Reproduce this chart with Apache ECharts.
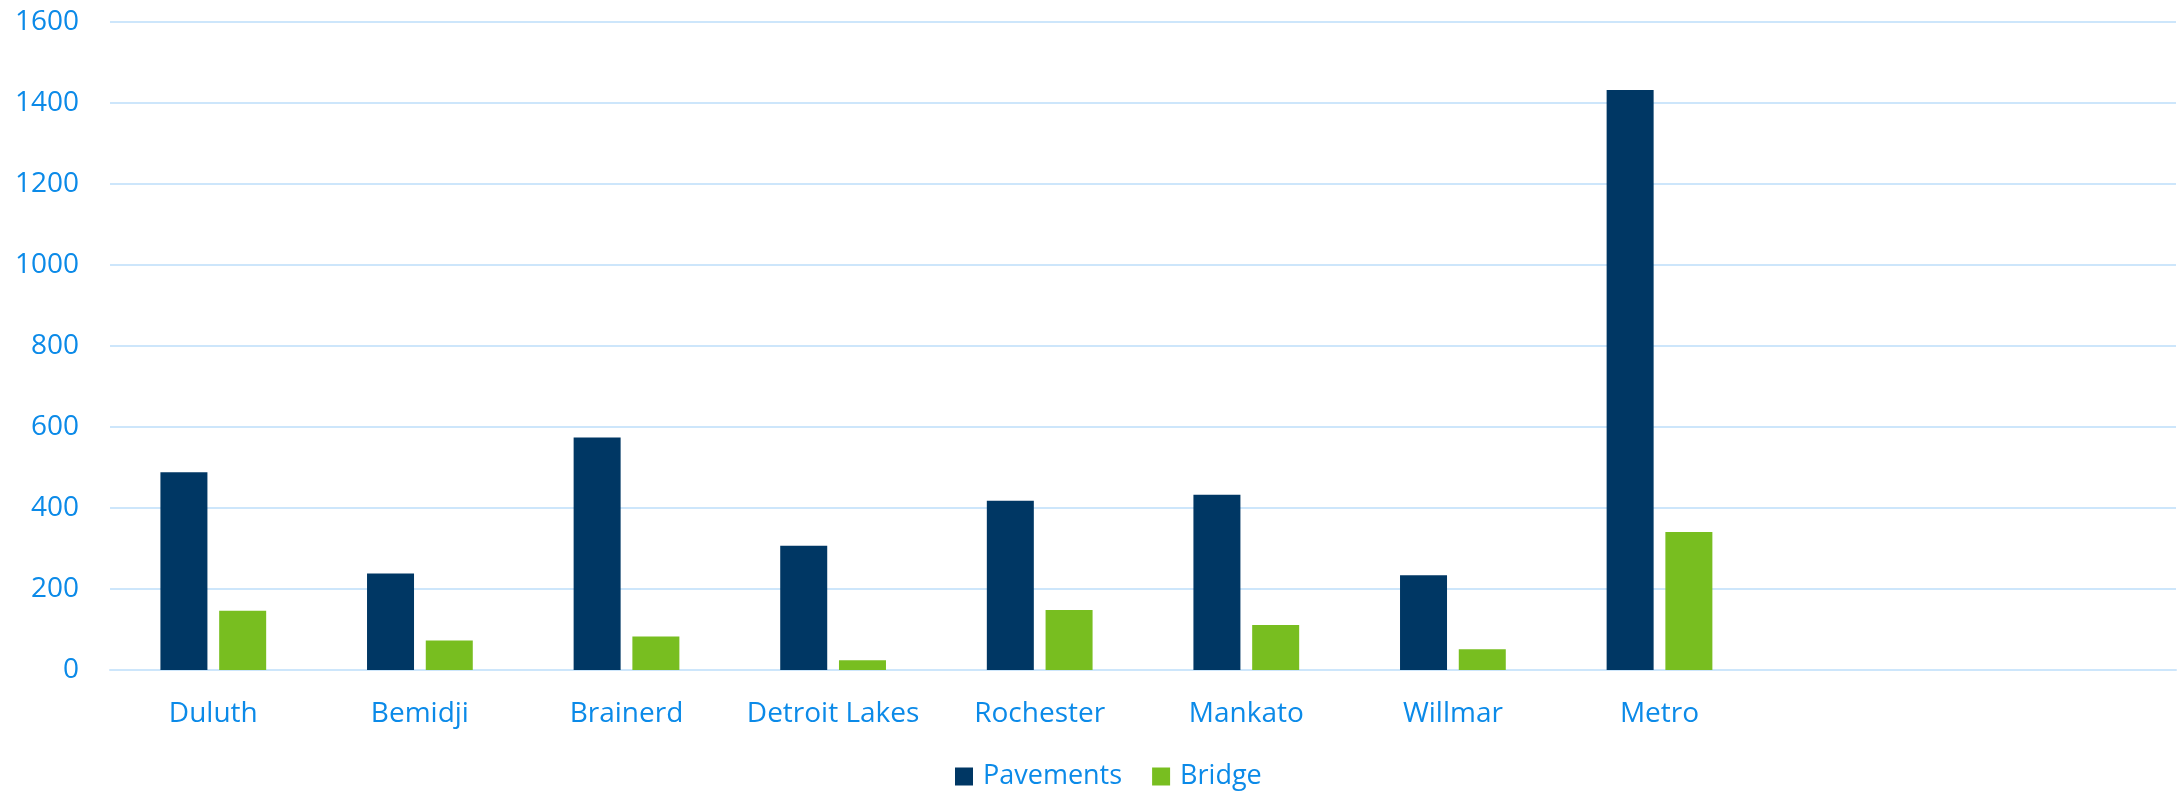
<!DOCTYPE html>
<html>
<head>
<meta charset="utf-8">
<script src="https://cdn.jsdelivr.net/npm/echarts@6/dist/echarts.min.js"></script>
<style>
  html, body { margin: 0; padding: 0; background: #fff; }
  #chart { width: 2178px; height: 792px; }
</style>
</head>
<body>
<div id="chart"></div>
<script>
const regions = ["Duluth", "Bemidji", "Brainerd", "Detroit Lakes", "Rochester", "Mankato", "Willmar", "Metro", "", ""];
const pavements = [488, 238, 574, 307, 418, 433, 234, 1432, null, null];
const bridge = [146, 73, 83, 24, 148, 111, 51, 341, null, null];

const labelBlue = "#0b8ae8";
const gridBlue = "#cde6fb";
const font = "'Open Sans', sans-serif";

const chart = echarts.init(document.getElementById("chart"), null, { renderer: "canvas" });

chart.setOption({
  animation: false,
  grid: { left: 110, right: 2, top: 22, bottom: 122, containLabel: false },
  legend: {
    left: 950,
    top: 758,
    itemWidth: 18,
    itemHeight: 18,
    itemGap: 30,
    icon: "rect",
    textStyle: { color: labelBlue, fontSize: 27, fontFamily: font, padding: [0, 0, 0, 5] },
    data: ["Pavements", "Bridge"]
  },
  xAxis: {
    type: "category",
    data: regions,
    axisLine: { lineStyle: { color: gridBlue, width: 2 } },
    axisTick: { show: false },
    axisLabel: { color: labelBlue, fontSize: 28, fontFamily: font, margin: 30, interval: 0 }
  },
  yAxis: {
    type: "value",
    min: 0,
    max: 1600,
    interval: 200,
    axisLine: { show: false },
    axisTick: { show: false },
    splitLine: { lineStyle: { color: gridBlue, width: 2 } },
    axisLabel: { color: labelBlue, fontSize: 28, fontFamily: font, margin: 31, formatter: v => String(v) }
  },
  series: [
    {
      name: "Pavements",
      type: "bar",
      data: pavements,
      barWidth: 47,
      barGap: "25%",
      itemStyle: { color: "#003764" }
    },
    {
      name: "Bridge",
      type: "bar",
      data: bridge,
      barWidth: 47,
      itemStyle: { color: "#78be20" }
    }
  ]
});
</script>
</body>
</html>
